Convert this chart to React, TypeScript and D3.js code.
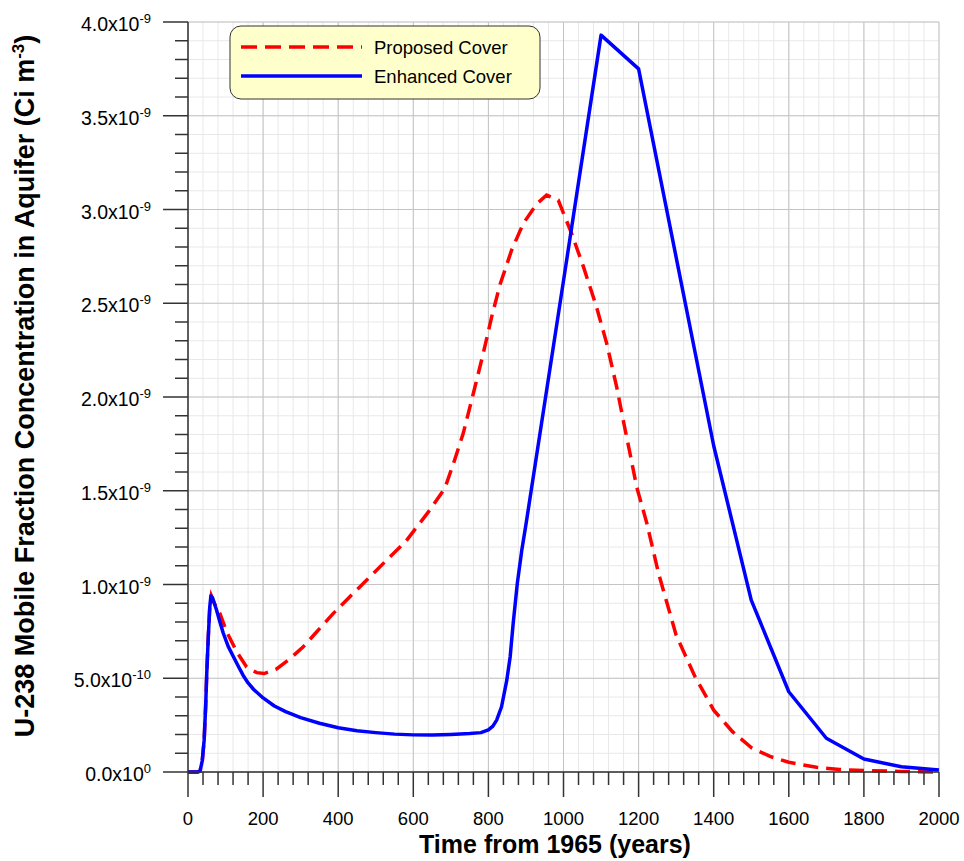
import React from 'react';
import * as d3 from 'd3';

// concentrations in units of 1e-9 Ci/m3
const enhancedTimes = [0, 25, 32, 38, 43, 47, 50, 54, 58, 61, 65, 70, 76, 85, 94, 107, 121, 135, 147, 160, 175, 200, 230, 260, 300, 350, 400, 450, 500, 550, 600, 650, 700, 750, 780, 800, 812, 822, 835, 849, 858, 866, 877, 889, 900, 1000, 1100, 1200, 1300, 1400, 1500, 1600, 1700, 1800, 1900, 2000];
const enhancedValues = [0, 0, 0.005, 0.06, 0.17, 0.35, 0.53, 0.72, 0.88, 0.94, 0.93, 0.9, 0.864, 0.8, 0.74, 0.67, 0.615, 0.56, 0.515, 0.475, 0.44, 0.395, 0.352, 0.322, 0.29, 0.26, 0.236, 0.22, 0.21, 0.202, 0.198, 0.197, 0.2, 0.205, 0.21, 0.225, 0.245, 0.277, 0.348, 0.49, 0.615, 0.793, 1.006, 1.184, 1.32, 2.62, 3.93, 3.75, 2.745, 1.74, 0.917, 0.428, 0.18, 0.069, 0.028, 0.011];

const proposedTimes = [0, 25, 32, 38, 43, 47, 50, 54, 58, 62, 70, 85, 103, 130, 156, 183, 203, 236, 272, 307, 343, 387, 431, 476, 529, 580, 644, 684, 707, 733, 760, 786, 809, 831, 862, 893, 929, 955, 986, 1004, 1022, 1053, 1088, 1115, 1142, 1159, 1177, 1195, 1222, 1253, 1300, 1350, 1400, 1450, 1500, 1550, 1600, 1674, 1735, 1800, 1900, 2000];
const proposedValues = [0, 0, 0.005, 0.06, 0.17, 0.35, 0.53, 0.72, 0.88, 0.94, 0.9, 0.846, 0.748, 0.64, 0.56, 0.53, 0.525, 0.55, 0.605, 0.668, 0.748, 0.846, 0.935, 1.024, 1.13, 1.23, 1.397, 1.513, 1.646, 1.806, 2.02, 2.23, 2.43, 2.6, 2.784, 2.926, 3.03, 3.077, 3.05, 2.96, 2.87, 2.695, 2.48, 2.286, 2.05, 1.877, 1.7, 1.52, 1.326, 1.06, 0.73, 0.51, 0.33, 0.215, 0.13, 0.083, 0.052, 0.025, 0.013, 0.008, 0.003, 0];

const xTickValues = [0, 200, 400, 600, 800, 1000, 1200, 1400, 1600, 1800, 2000];
const yTickValues = [0, 0.5, 1, 1.5, 2, 2.5, 3, 3.5, 4];
const yTickMantissa = ['0.0', '5.0', '1.0', '1.5', '2.0', '2.5', '3.0', '3.5', '4.0'];
const yTickExponent = ['0', '-10', '-9', '-9', '-9', '-9', '-9', '-9', '-9'];

const seriesNames = ['Proposed Cover', 'Enhanced Cover'];

const W = 964, H = 861;
const left = 188, right = 939, top = 22, bottom = 772;
const font = 'Arial, "Liberation Sans", sans-serif';

export default function App() {
  const x = d3.scaleLinear().domain([0, 2000]).range([left, right]);
  const y = d3.scaleLinear().domain([0, 4]).range([bottom, top]);

  const minorX = d3.range(0, 2001, 40);
  const minorY = d3.range(0, 41, 1).map((d) => d / 10);

  const line = (ts: number[], vs: number[]) =>
    d3.line<number>()
      .x((t) => x(t))
      .y((_, i) => y(vs[i]))
      .curve(d3.curveLinear)(ts) || '';

  return (
    <svg width={W} height={H} style={{ position: 'absolute', left: 0, top: 0, background: '#fff' }} fontFamily={font}>
      {/* minor grid */}
      {minorX.map((t) => (
        <line key={'gx' + t} x1={x(t)} x2={x(t)} y1={top} y2={bottom} stroke="#e8e8e8" strokeWidth={1} />
      ))}
      {minorY.map((v) => (
        <line key={'gy' + v} x1={left} x2={right} y1={y(v)} y2={y(v)} stroke="#e8e8e8" strokeWidth={1} />
      ))}
      {/* major grid */}
      {xTickValues.map((t) => (
        <line key={'Gx' + t} x1={x(t)} x2={x(t)} y1={top} y2={bottom} stroke="#c4c4c4" strokeWidth={1} />
      ))}
      {yTickValues.map((v) => (
        <line key={'Gy' + v} x1={left} x2={right} y1={y(v)} y2={y(v)} stroke="#c4c4c4" strokeWidth={1} />
      ))}

      {/* curves */}
      <path d={line(proposedTimes, proposedValues)} fill="none" stroke="#ff0000" strokeWidth={3.5} strokeDasharray="15,8" />
      <path d={line(enhancedTimes, enhancedValues)} fill="none" stroke="#0000ff" strokeWidth={3.5} strokeLinejoin="round" />

      {/* axes */}
      <line x1={left} x2={right} y1={bottom} y2={bottom} stroke="#333" strokeWidth={1.5} />
      <line x1={left} x2={left} y1={top} y2={bottom} stroke="#333" strokeWidth={1.5} />
      {minorX.map((t) => (
        <line key={'tx' + t} x1={x(t)} x2={x(t)} y1={bottom} y2={bottom + (t % 200 === 0 ? 25 : 13)} stroke="#333" strokeWidth={1.5} />
      ))}
      {minorY.map((v, i) => (
        <line key={'ty' + i} x1={left - (i % 5 === 0 ? 25 : 13)} x2={left} y1={y(v)} y2={y(v)} stroke="#333" strokeWidth={1.5} />
      ))}
      {xTickValues.map((t) => (
        <text key={'lx' + t} x={x(t)} y={825} textAnchor="middle" fontSize={18.5} fill="#000">{t}</text>
      ))}
      {yTickValues.map((v, i) => (
        <text key={'ly' + v} x={151} y={y(v) + 9} textAnchor="end" fontSize={19.5} fill="#000">
          {yTickMantissa[i]}x10<tspan fontSize={13} dy={-8}>{yTickExponent[i]}</tspan>
        </text>
      ))}

      {/* titles */}
      <text x={555} y={853} textAnchor="middle" fontSize={25} fontWeight="bold" fill="#000">Time from 1965 (years)</text>
      <text transform={`translate(34,386) rotate(-90)`} textAnchor="middle" fontSize={27} fontWeight="bold" fill="#000">
        U-238 Mobile Fraction Concentration in Aquifer (Ci m<tspan fontSize={17} dy={-10}>-3</tspan><tspan dy={10}>)</tspan>
      </text>

      {/* legend */}
      <rect x={230} y={26} width={310} height={73} rx={11} ry={11} fill="#ffffcc" stroke="#333" strokeWidth={1} />
      <line x1={241} x2={362} y1={47} y2={47} stroke="#ff0000" strokeWidth={3.5} strokeDasharray="16,8" />
      <line x1={241} x2={362} y1={76} y2={76} stroke="#0000ff" strokeWidth={3.5} />
      <text x={374} y={53.5} fontSize={18.5} fill="#000">{seriesNames[0]}</text>
      <text x={374} y={83} fontSize={18.5} fill="#000">{seriesNames[1]}</text>
    </svg>
  );
}
